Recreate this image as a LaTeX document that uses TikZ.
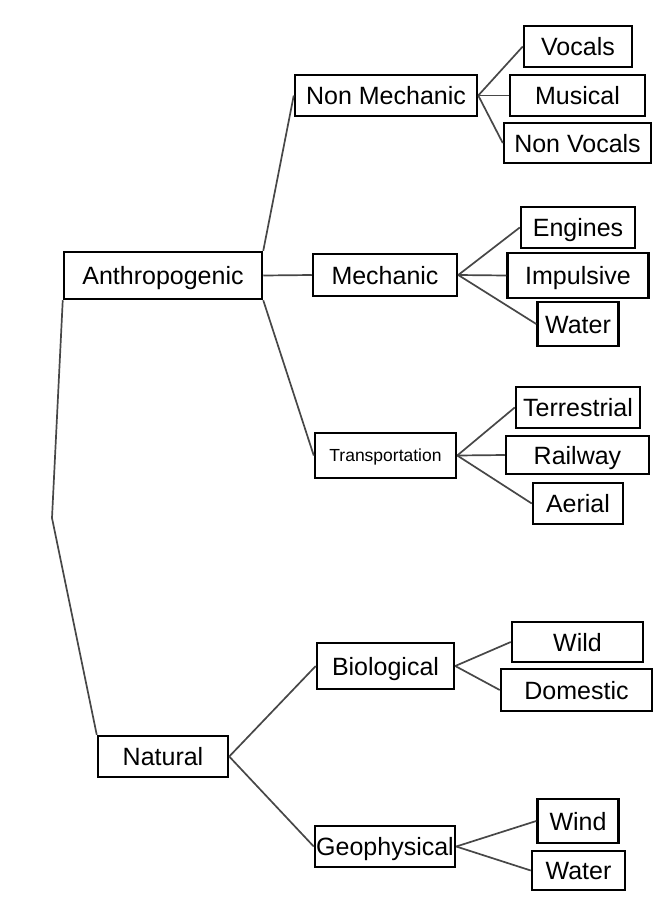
\documentclass[tikz,border=0pt]{standalone}
\usepackage{fontspec}
\setmainfont{Liberation Sans}
\tikzstyle{box}=[draw, rectangle, line width=2.5pt, inner sep=0pt, text height=18pt, text depth=0pt, font=\fontsize{25}{30}\selectfont]
\tikzstyle{link}=[line width=1.7pt, draw=black!72]

\begin{document}
\begin{tikzpicture}[x=1pt, y=-1pt]
				\useasboundingbox (0,0) rectangle (653,902);
				
				% first level
				\node (anthro) [box, minimum width=198, minimum height=47] at (163,275.5) {Anthropogenic};
				\node (natural) [box, minimum width=130, minimum height=41] at (163,756.5) {Natural};
				%
				\node (nonmech) [box, minimum width=182, minimum height=41] at (386,95.5) {Non Mechanic};
				\node (mech) [box, minimum width=144, minimum height=42] at (385,275) {Mechanic};
				\node (transp) [box, minimum width=141, minimum height=45, font=\fontsize{17.5}{21}\selectfont, text height=12.5pt] at (385.5,455.5) {Transportation};
				\node (bio) [box, minimum width=137, minimum height=46] at (385.5,666) {Biological};
				\node (geo) [box, minimum width=140, minimum height=41] at (385,846.5) {Geophysical};
				
				% leaves
				\node (vocals) [box, minimum width=108, minimum height=41] at (578,46.5) {Vocals};
				\node (musical) [box, minimum width=135, minimum height=41] at (577.5,95.5) {Musical};
				\node (nonvoc) [box, minimum width=147, minimum height=40] at (577.5,143) {Non Vocals};
				
				\node (engines) [box, minimum width=114, minimum height=41] at (578,227.5) {Engines};
				\node (impuls) [box, minimum width=141, minimum height=45] at (578,275.5) {Impulsive};
				\node (watermech) [box, minimum width=81, minimum height=44] at (578,324) {Water};
				
				\node (terr) [box, minimum width=124, minimum height=41] at (578,407.5) {Terrestrial};
				\node (railway) [box, minimum width=143, minimum height=38] at (577.5,455) {Railway};
				\node (aerial) [box, minimum width=90, minimum height=41] at (578,503.5) {Aerial};
				
				\node (wild) [box, minimum width=131, minimum height=40] at (577.5,642) {Wild};
				\node (domestic) [box, minimum width=151, minimum height=42] at (576.5,690) {Domestic};
				
				\node (wind) [box, minimum width=81, minimum height=44] at (578,821) {Wind};
				\node (watergeo) [box, minimum width=93, minimum height=39] at (578.5,870.5) {Water};
				
				\coordinate (bend) at (52,518);
				
				\draw [link] (anthro.south west) -- (bend) -- (natural.north west);
				\draw [link] (anthro.north east) -- (nonmech.west);
				\draw [link] (anthro.east) -- (mech.west);
				\draw [link] (anthro.south east) -- (transp.west);
				\draw [link] (natural.east) -- (bio.west);
				\draw [link] (natural.east) -- (geo.west);
				
				\draw [link] (nonmech.east) -- (vocals.west);
				\draw [link] (nonmech.east) -- (musical.west);
				\draw [link] (nonmech.east) -- (nonvoc.west);
				\draw [link] (mech.east) -- (engines.west);
				\draw [link] (mech.east) -- (impuls.west);
				\draw [link] (mech.east) -- (watermech.west);
				\draw [link] (transp.east) -- (terr.west);
				\draw [link] (transp.east) -- (railway.west);
				\draw [link] (transp.east) -- (aerial.west);
				\draw [link] (bio.east) -- (wild.west);
				\draw [link] (bio.east) -- (domestic.west);
				\draw [link] (geo.east) -- (wind.west);
				\draw [link] (geo.east) -- (watergeo.west);
				\end{tikzpicture}
\end{document}
